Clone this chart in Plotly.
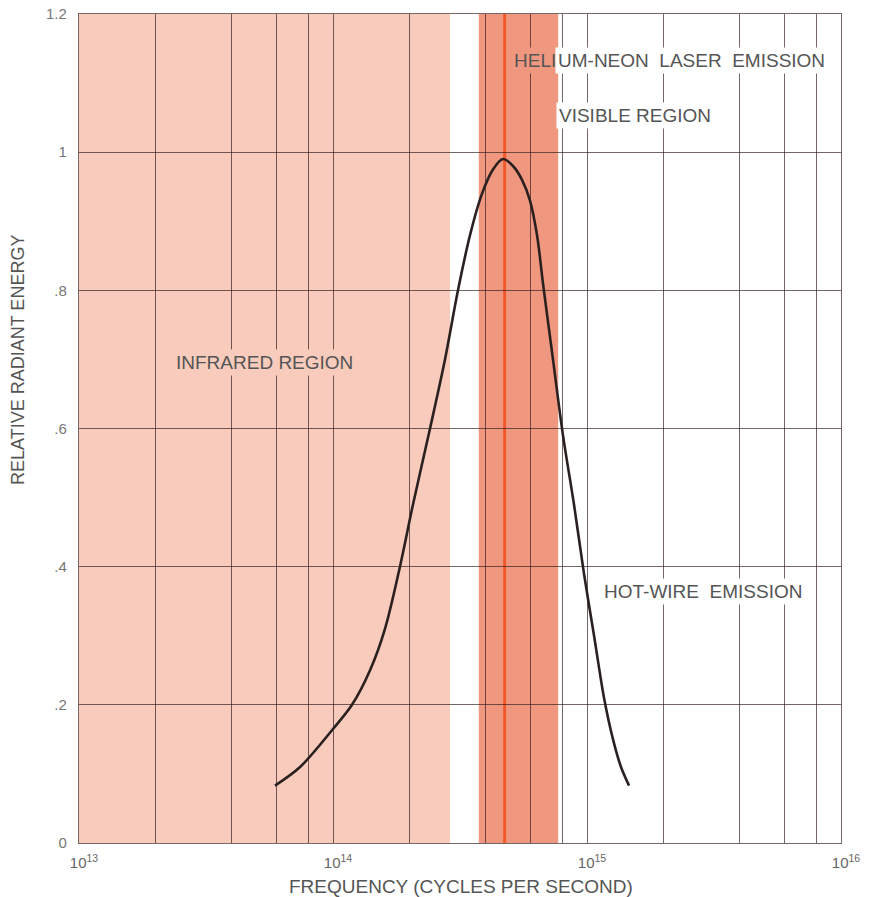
import plotly.graph_objects as go

# ---- data ----
freq = [5.91e13, 7.42e13, 1.0e14, 1.188e14, 1.399e14, 1.602e14, 1.835e14, 2.065e14, 2.41e14, 2.76e14,
        3.105e14, 3.463e14, 3.861e14, 4.265e14, 4.67e14, 5.113e14, 5.548e14, 5.965e14, 6.356e14,
        6.71e14, 7.347e14, 8.045e14, 8.888e14, 9.73e14, 1.066e15, 1.167e15, 1.266e15, 1.361e15, 1.464e15]
energy = [0.083, 0.11, 0.165, 0.20, 0.25, 0.31, 0.40, 0.49, 0.60, 0.70,
          0.80, 0.88, 0.94, 0.975, 0.99, 0.98, 0.96, 0.93, 0.88,
          0.81, 0.70, 0.59, 0.49, 0.39, 0.30, 0.21, 0.15, 0.11, 0.083]

infrared_range = [1e13, 2.89e14]
visible_range = [3.75e14, 7.7e14]
laser_freq = 4.74e14

x_decades = [1e13, 1e14, 1e15, 1e16]
x_ticktext = ["10<sup>13</sup>", "10<sup>14</sup>", "10<sup>15</sup>", "10<sup>16</sup>"]
x_minor = [m * 10 ** n for n in (13, 14, 15) for m in (2, 4, 6, 8)]
y_ticks = [0, 0.2, 0.4, 0.6, 0.8, 1.0, 1.2]
y_ticktext = ["0", ".2", ".4", ".6", ".8", "1", "1.2"]

IR_COLOR = "#f8cbbc"
VIS_COLOR = "#f0987f"
LASER_COLOR = "#f2582a"
GRID = "rgba(50,30,30,0.68)"
TEXT = "#555555"
FONT = "Liberation Sans"

fig = go.Figure()
fig.add_trace(go.Scatter(x=freq, y=energy, mode="lines",
                         line=dict(color="#2b2020", width=2.6, shape="spline", smoothing=0.9),
                         showlegend=False, hoverinfo="skip"))

fig.add_vrect(x0=infrared_range[0], x1=infrared_range[1], fillcolor=IR_COLOR, line_width=0, layer="below")
fig.add_vrect(x0=visible_range[0], x1=visible_range[1], fillcolor=VIS_COLOR, line_width=0, layer="below")
fig.add_shape(type="line", xref="x", yref="paper", x0=laser_freq, x1=laser_freq, y0=0, y1=1,
              line=dict(color=LASER_COLOR, width=3), layer="below")

fig.update_xaxes(type="log", range=[13, 16], tickvals=x_decades, ticktext=x_ticktext,
                 showgrid=True, gridcolor=GRID, gridwidth=1.4, ticks="",
                 minor=dict(tickvals=x_minor, showgrid=True, gridcolor=GRID, gridwidth=1.4, ticks=""),
                 showline=True, mirror=True, linecolor=GRID, linewidth=1.4, zeroline=False,
                 automargin=False, ticklabelshift=5, ticklabelstandoff=6,
                 ticklabeloverflow="allow",
                 tickfont=dict(family=FONT, size=15, color="#666"))
fig.update_yaxes(range=[0, 1.2], tickvals=y_ticks, ticktext=y_ticktext,
                 showgrid=True, gridcolor=GRID, gridwidth=1.4, ticks="",
                 showline=True, mirror=True, linecolor=GRID, linewidth=1.4, zeroline=False,
                 ticklabelstandoff=8, automargin=False, ticklabeloverflow="allow",
                 tickfont=dict(family=FONT, size=15, color="#777"))

def label(text, xpx, ypx, bg, anchor="left"):
    fig.add_annotation(text=text, xref="paper", yref="paper",
                       x=(xpx - 79) / 762, y=(843 - ypx) / 829,
                       xanchor=anchor, yanchor="middle", showarrow=False,
                       font=dict(family=FONT, size=19, color=TEXT),
                       bgcolor=bg, borderpad=2)

label("INFRARED REGION", 173, 362, IR_COLOR)
label("HELI", 511, 60, VIS_COLOR)
label("UM-NEON  LASER  EMISSION", 555, 60, "white")
label("VISIBLE REGION", 556, 115, "white")
label("HOT-WIRE  EMISSION", 601, 591, "white")

fig.add_annotation(text="FREQUENCY (CYCLES PER SECOND)", xref="paper", yref="paper",
                   x=(461 - 79) / 762, y=(843 - 886) / 829, xanchor="center", yanchor="middle",
                   showarrow=False, font=dict(family=FONT, size=19, color=TEXT))
fig.add_annotation(text="RELATIVE RADIANT ENERGY", xref="paper", yref="paper", textangle=-90,
                   x=(6 - 79) / 762, y=(843 - 360) / 829, xanchor="left", yanchor="middle",
                   showarrow=False, font=dict(family=FONT, size=18, color=TEXT))

# page has an 8px body margin: shrink the figure so the plot lands where the reference has it
fig.update_layout(width=866, height=889, margin=dict(l=71, r=33, t=6, b=54, autoexpand=False),
                  paper_bgcolor="white", plot_bgcolor="white", showlegend=False)

fig.write_html("out.html")
